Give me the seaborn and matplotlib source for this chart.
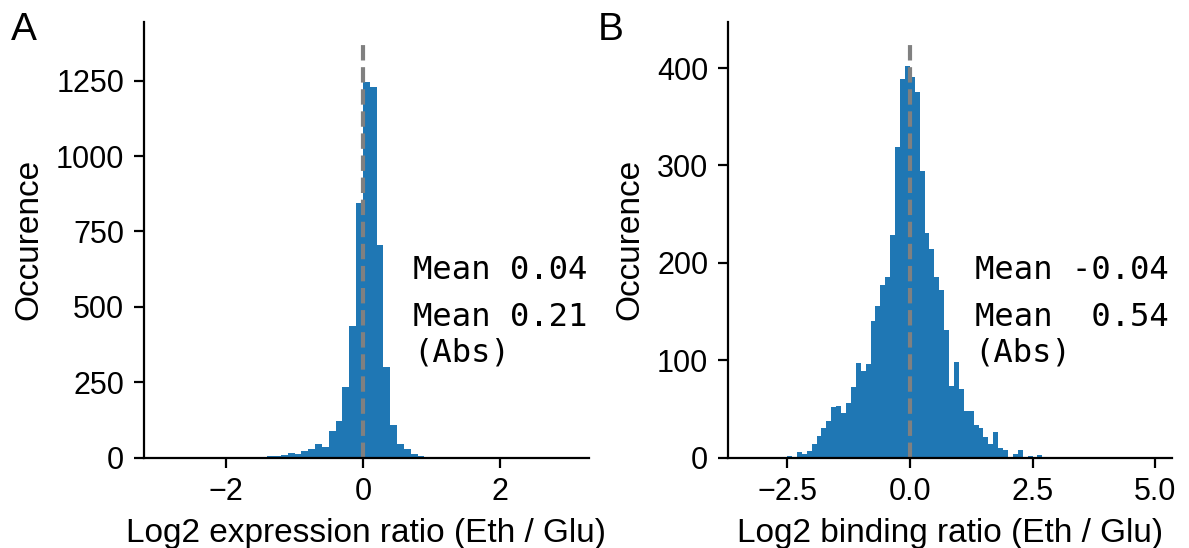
import numpy as np
import pandas as pd
import matplotlib
matplotlib.use('Agg')
import matplotlib.pyplot as plt
import seaborn as sns

# Histogram counts (bin width 0.1)
expr_bin_start = -2.0
expr_counts = [1, 3, 1, 1, 2, 3, 6, 7, 8, 15,
               12, 22, 30, 45, 36, 87, 123, 235, 435, 845,
               1245, 1228, 706, 302, 108, 47, 30, 12, 5, 2]

bind_bin_start = -2.5
bind_counts = [2, 1, 6, 4, 7, 14, 22, 30, 38, 52,
               53, 46, 56, 73, 97, 89, 96, 140, 156, 177,
               185, 229, 319, 389, 402,
               391, 375, 294, 231, 214, 185, 172, 131, 74, 98,
               71, 48, 48, 34, 30, 21, 14, 26, 10, 8,
               0, 4, 8, 1, 2, 1, 3]

bin_width = 0.1
expr_line_top = 1376
bind_line_top = 426
expr_text = ["Mean 0.04", "Mean 0.21\n(Abs)"]
bind_text = ["Mean -0.04", "Mean  0.54\n(Abs)"]

plt.rcParams['font.family'] = ['Liberation Sans', 'DejaVu Sans']
plt.rcParams['font.size'] = 12
plt.rcParams['xtick.labelsize'] = 11
plt.rcParams['ytick.labelsize'] = 11
plt.rcParams['axes.linewidth'] = 0.8

fig = plt.figure(figsize=(5.945, 2.74), dpi=200)
ax_a = fig.add_axes([0.1207, 0.1648, 0.3747, 0.7952])
ax_b = fig.add_axes([0.612, 0.1648, 0.3737, 0.7952])


def draw_hist(ax, start, counts, line_top, texts, xlabel, xlim, text_x):
    edges = start + bin_width * np.arange(len(counts) + 1)
    df = pd.DataFrame({'ratio': (edges[:-1] + edges[1:]) / 2, 'count': counts})
    sns.histplot(data=df, x='ratio', weights='count', bins=edges.tolist(), ax=ax,
                 color='#1f77b4', alpha=1, linewidth=0)
    ax.vlines(0, 0, line_top, colors='gray', linestyles='--', linewidth=1.5)
    ax.set_xlim(*xlim)
    ax.set_ylim(0, line_top * 1.05)
    ax.set_xlabel(xlabel, fontsize=12)
    ax.set_ylabel('Occurence', fontsize=12)
    ax.text(text_x, 0.409, texts[0], transform=ax.transAxes, va='baseline',
            family='DejaVu Sans Mono', fontsize=11.6)
    ax.text(text_x, 0.220, texts[1], transform=ax.transAxes, va='baseline',
            family='DejaVu Sans Mono', fontsize=11.6)
    sns.despine(ax=ax)


draw_hist(ax_a, expr_bin_start, expr_counts, expr_line_top, expr_text,
          'Log2 expression ratio (Eth / Glu)', (-3.21, 3.31), 0.605)
ax_a.set_xticks([-2, 0, 2])
ax_a.set_yticks([0, 250, 500, 750, 1000, 1250])

draw_hist(ax_b, bind_bin_start, bind_counts, bind_line_top, bind_text,
          'Log2 binding ratio (Eth / Glu)', (-3.71, 5.34), 0.556)
ax_b.set_xticks([-2.5, 0.0, 2.5, 5.0])
ax_b.set_yticks([0, 100, 200, 300, 400])

fig.text(0.009, 0.978, 'A', fontsize=14, va='top')
fig.text(0.503, 0.978, 'B', fontsize=14, va='top')

fig.savefig('out.png', dpi=200)
